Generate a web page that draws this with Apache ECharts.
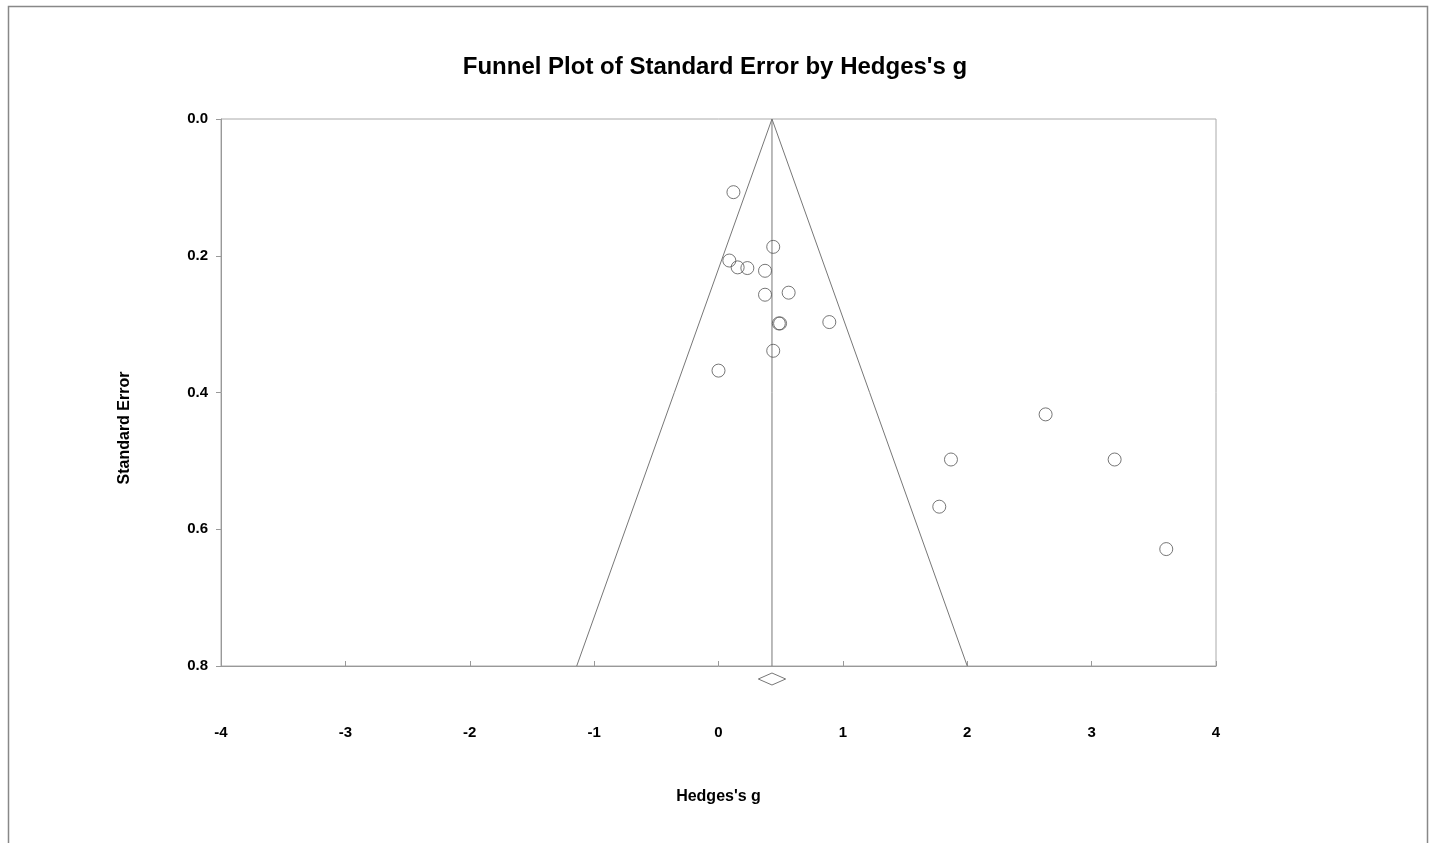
<!DOCTYPE html>
<html>
<head>
<meta charset="utf-8">
<script src="https://cdn.jsdelivr.net/npm/echarts@6/dist/echarts.min.js"></script>
<style>html,body{margin:0;padding:0;background:#fff;}#chart{width:1430px;height:843px;}</style>
</head>
<body>
<div id="chart"></div>
<script>
// Studies: Hedges's g and standard error
const studyG  = [0.12, 0.44, 0.087, 0.154, 0.232, 0.374, 0.374, 0.564, 0.485, 0.495, 0.891, 0.44, 0.0, 2.63, 1.869, 3.185, 1.775, 3.60];
const studySE = [0.107, 0.187, 0.207, 0.217, 0.218, 0.222, 0.257, 0.254, 0.299, 0.299, 0.297, 0.339, 0.368, 0.432, 0.498, 0.498, 0.567, 0.629];
// Summary effect and its confidence interval (diamond)
const summaryG = 0.43;
const summaryCI = [0.32, 0.54];
// Funnel (pseudo 95% limits)
const funnelX = [-1.14, 0.43, 2.0];
const funnelY = [0.8, 0.0, 0.8];
const xTicks = [-4, -3, -2, -1, 0, 1, 2, 3, 4];
const yTicks = [0.0, 0.2, 0.4, 0.6, 0.8];

const chart = echarts.init(document.getElementById('chart'), null, {renderer: 'canvas'});
const font = '"Liberation Sans", Arial, sans-serif';

const points = studyG.map((g, i) => [g, studySE[i]]);

chart.setOption({
  backgroundColor: '#fff',
  animation: false,
  title: {
    text: "Funnel Plot of Standard Error by Hedges's g",
    left: 'center',
    top: 50,
    textStyle: {fontFamily: font, fontSize: 24, fontWeight: 'bold', color: '#000'}
  },
  graphic: [
    {type: 'polyline', shape: {points: [[8.5, 843], [8.5, 6.5], [1427.5, 6.5], [1427.5, 843]]},
     style: {stroke: '#888', lineWidth: 1.5, fill: null}, silent: true},
    {type: 'text', x: 125, y: 428, rotation: Math.PI / 2,
     style: {text: 'Standard Error', fontFamily: font, fontSize: 16, fontWeight: 'bold', fill: '#000',
       align: 'center', verticalAlign: 'middle'}, silent: true}
  ],
  grid: {
    left: 221, right: 214, top: 119, bottom: 177,
    show: true, borderColor: '#aaa', borderWidth: 1, backgroundColor: 'transparent'
  },
  xAxis: {
    type: 'value', min: xTicks[0], max: xTicks[xTicks.length - 1], interval: 1,
    name: "Hedges's g", nameLocation: 'middle', nameGap: 123,
    nameTextStyle: {fontFamily: font, fontSize: 16, fontWeight: 'bold', color: '#000'},
    axisLine: {show: true, onZero: false, lineStyle: {color: '#999', width: 1}},
    axisTick: {show: true, inside: true, length: 5, lineStyle: {color: '#999'}},
    axisLabel: {margin: 59, fontFamily: font, fontSize: 15, fontWeight: 'bold', color: '#000'},
    splitLine: {show: false}
  },
  yAxis: {
    type: 'value', inverse: true, min: yTicks[0], max: yTicks[yTicks.length - 1], interval: 0.2,
    axisLine: {show: true, onZero: false, lineStyle: {color: '#999', width: 1}},
    axisTick: {show: true, inside: false, length: 5, lineStyle: {color: '#999'}},
    axisLabel: {margin: 13, fontFamily: font, fontSize: 15, fontWeight: 'bold', color: '#000',
      formatter: v => v.toFixed(1)},
    splitLine: {show: false}
  },
  series: [
    {
      type: 'line', data: funnelX.map((x, i) => [x, funnelY[i]]),
      symbol: 'none', lineStyle: {color: '#777', width: 1}, silent: true, z: 1
    },
    {
      type: 'line', data: [[summaryG, funnelY[1]], [summaryG, funnelY[0]]],
      symbol: 'none', lineStyle: {color: '#777', width: 1}, silent: true, z: 1
    },
    {
      type: 'scatter', data: points, symbol: 'circle', symbolSize: 13,
      itemStyle: {color: 'transparent', borderColor: '#555', borderWidth: 1}, z: 3
    },
    {
      type: 'custom', clip: false, silent: true, z: 3,
      data: [[summaryCI[0], summaryG, summaryCI[1]]],
      renderItem: function (params, api) {
        const yMax = yTicks[yTicks.length - 1];
        const lo = api.coord([api.value(0), yMax]);
        const mid = api.coord([api.value(1), yMax]);
        const hi = api.coord([api.value(2), yMax]);
        const cy = mid[1] + 13, h = 6;
        return {
          type: 'polygon',
          shape: {points: [[lo[0], cy], [mid[0], cy - h], [hi[0], cy], [mid[0], cy + h]]},
          style: {fill: '#fff', stroke: '#777', lineWidth: 1}
        };
      }
    }
  ]
});
</script>
</body>
</html>
